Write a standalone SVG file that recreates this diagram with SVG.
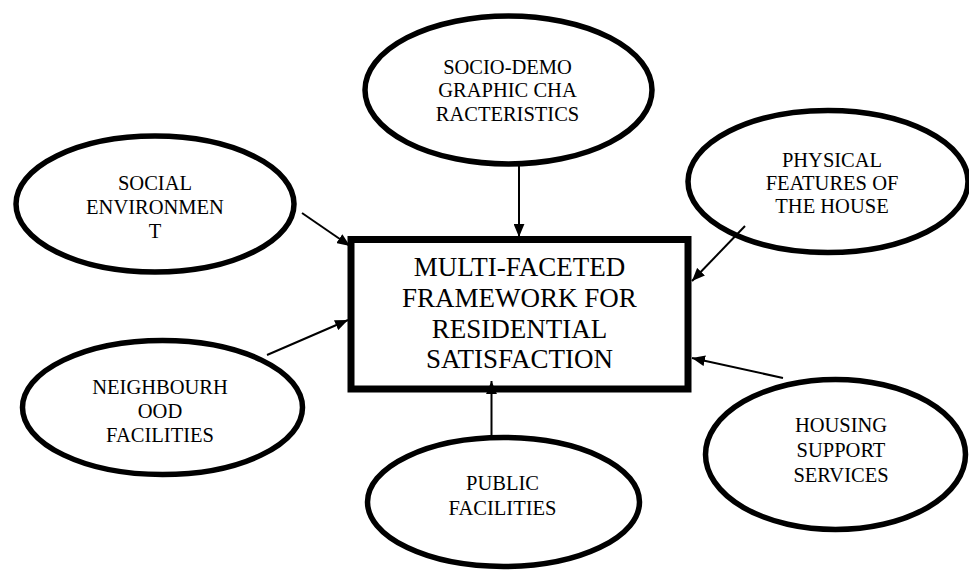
<svg xmlns="http://www.w3.org/2000/svg" width="969" height="571" viewBox="0 0 969 571">
<style>
.bg{fill:#fff}
.oval{fill:#fff;stroke:#000;stroke-width:5.5}
.box{fill:#fff;stroke:#000;stroke-width:7}
.t{font-family:"Liberation Serif","Times New Roman",serif;font-size:20.5px;fill:#000;text-anchor:middle}
.tb{font-family:"Liberation Serif","Times New Roman",serif;font-size:27px;fill:#000;text-anchor:middle}
.conn{stroke:#000;stroke-width:2;fill:none;marker-end:url(#ah)}
</style>
<defs>
<marker id="ah" viewBox="0 0 12 10" refX="12" refY="5" markerWidth="13" markerHeight="11" markerUnits="userSpaceOnUse" orient="auto">
<path d="M0,0 L12,5 L0,10 z" fill="#000"/>
</marker>
</defs>
<rect class="bg" x="0" y="0" width="969" height="571"/>
<g id="socio">
<ellipse class="oval" cx="508.5" cy="90" rx="143.5" ry="74"/>
<text class="t" x="507.5" y="73.5">SOCIO-DEMO</text>
<text class="t" x="507.5" y="97">GRAPHIC CHA</text>
<text class="t" x="507.5" y="120.5">RACTERISTICS</text>
</g>
<g id="social">
<ellipse class="oval" cx="155" cy="204" rx="139" ry="68"/>
<text class="t" x="155" y="190">SOCIAL</text>
<text class="t" x="155" y="214">ENVIRONMEN</text>
<text class="t" x="155" y="238">T</text>
</g>
<g id="physical">
<ellipse class="oval" cx="828" cy="181.5" rx="140" ry="71"/>
<text class="t" x="832" y="167">PHYSICAL</text>
<text class="t" x="832" y="190">FEATURES OF</text>
<text class="t" x="832" y="213">THE HOUSE</text>
</g>
<g id="neighbourhood">
<ellipse class="oval" cx="162.5" cy="407.5" rx="140" ry="67"/>
<text class="t" x="160" y="394">NEIGHBOURH</text>
<text class="t" x="160" y="418">OOD</text>
<text class="t" x="160" y="442">FACILITIES</text>
</g>
<g id="public">
<ellipse class="oval" cx="503.5" cy="502" rx="136" ry="64.5"/>
<text class="t" x="502.5" y="490">PUBLIC</text>
<text class="t" x="502.5" y="515">FACILITIES</text>
</g>
<g id="housing">
<ellipse class="oval" cx="835.5" cy="454.5" rx="130" ry="75"/>
<text class="t" x="841" y="432">HOUSING</text>
<text class="t" x="841" y="457">SUPPORT</text>
<text class="t" x="841" y="482">SERVICES</text>
</g>
<g id="framework">
<rect class="box" x="351" y="239.5" width="337" height="149.5"/>
<text class="tb" x="519.5" y="276">MULTI-FACETED</text>
<text class="tb" x="519.5" y="306.7">FRAMEWORK FOR</text>
<text class="tb" x="519.5" y="337.5">RESIDENTIAL</text>
<text class="tb" x="519.5" y="368">SATISFACTION</text>
</g>
<g id="connectors">
<line class="conn" x1="519" y1="166" x2="519" y2="237"/>
<line class="conn" x1="302" y1="213" x2="350" y2="246"/>
<line class="conn" x1="745" y1="226" x2="692" y2="281"/>
<line class="conn" x1="267" y1="355" x2="348" y2="320"/>
<line class="conn" x1="491.5" y1="436" x2="491.5" y2="381"/>
<line class="conn" x1="783" y1="378" x2="692" y2="358"/>
</g>
</svg>
